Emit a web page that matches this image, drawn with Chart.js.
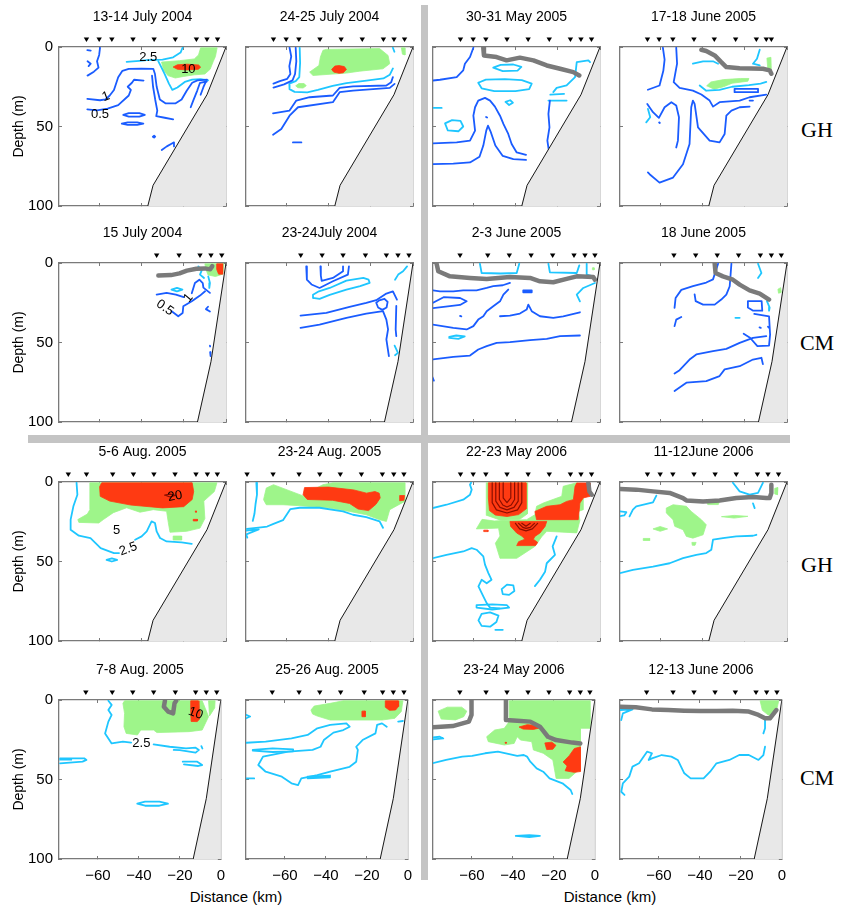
<!DOCTYPE html>
<html>
<head>
<meta charset="utf-8">
<script src="https://cdn.jsdelivr.net/npm/chart.js@4.4.1/dist/chart.umd.min.js"></script>
<style>
  body { margin: 0; background: #fff; width: 843px; height: 909px; position: relative; overflow: hidden; font-family: "Liberation Sans", Arial, sans-serif; }
  canvas { position: absolute; }
  .bar { position: absolute; background: #c4c4c4; }
  .site { position: absolute; font-family: "Liberation Serif", "Times New Roman", serif; font-size: 22px; line-height: 1; transform: translate(-50%, -50%); }
  .xlab { position: absolute; font-size: 15px; line-height: 1; transform: translate(-50%, -50%); }
</style>
</head>
<body>
<div class="bar" style="left:421px; top:5px; width:7px; height:875px;"></div>
<div class="bar" style="left:28px; top:435px; width:762px; height:8px;"></div>
<div class="site" style="left:817px; top:130px;">GH</div>
<div class="site" style="left:817px; top:343px;">CM</div>
<div class="site" style="left:817px; top:565px;">GH</div>
<div class="site" style="left:817px; top:778px;">CM</div>
<div class="xlab" style="left:236px; top:896px;">Distance (km)</div>
<div class="xlab" style="left:610px; top:896px;">Distance (km)</div>
<script>
// axes
const xTickVals = [-60, -40, -20, 0]
const yTickVals = [0, 50, 100]

const titles = ['13-14 July 2004', '24-25 July 2004', '30-31 May 2005', '17-18 June 2005',
    '15 July 2004', '23-24July 2004', '2-3 June 2005', '18 June 2005',
    '5-6 Aug. 2005', '23-24 Aug. 2005', '22-23 May 2006', '11-12June 2006',
    '7-8 Aug. 2005', '25-26 Aug. 2005', '23-24 May 2006', '12-13 June 2006']

// station positions (km)
const stGH = [-66, -60, -54, -44, -34, -24, -14, -9, -4]
const stGH4 = [-66, -60.5, -54, -44, -34.4, -24.3, -14.5, -9.8, -7.4]
const stGH9 = [-74.6, -66, -53.6, -43.8, -34.1, -24.1, -14.2, -8.8, -4.1]
const stGH10 = [-78.5, -66.2, -53.9, -44.1, -34.4, -24.4, -14.5, -9.1, -4.3]
const stCM5 = [-32.8, -22.2, -12.3, -7.1, -2]
const stCM6 = [-53.1, -43, -33.1, -22.5, -12.6, -7.1, -1.9]
const stCM7 = [-66.2, -53.1, -42.9, -32.6, -22.4, -12.3, -7.1, -2.4]
const stCM8 = [-53.5, -43.2, -33, -22.9, -12.6, -7.4, -2.7]
const stCM13 = [-65.9, -53, -43, -32.8, -22.2, -12.3, -7.1, -2]
const stCM14 = [-66.2, -53.1, -43, -32.8, -21.3, -12.3, -7.1, -1.9]
const stCM15 = [-65.9, -53.1, -42.9, -32.6, -22.4, -12.3, -7.1, -2.4]
const stCM16 = [-66, -53.1, -42.9, -32.6, -22.7, -12.6, -7.4, -2.4]

// bottom profiles (km, m)
const ghShelf = [[-37, 100], [-34.5, 87], [-9, 30], [0, 0]]
const cmShelf = [[-13.5, 100], [-7.1, 62], [0, 0]]

// ---- 13-14 July 2004
const p1Green = [[[-30.5, 9.5], [-29.5, 14.5], [-27.5, 18], [-24, 19.5], [-20, 18.5], [-15, 17.5], [-10, 17], [-7.5, 14], [-6, 9], [-5, 6], [-4.2, 0.5], [-12, 0.5], [-13, 5], [-15, 7.5], [-22, 8.6], [-30.5, 9.5]]]
const p1Red = [[[-25, 12.6], [-23, 11.2], [-18.5, 10.8], [-13, 11.3], [-12, 12.6], [-13, 14], [-18.5, 14.4], [-23, 14], [-25, 12.6]]]
const p1Cyan = [
    [[-47, 9.3], [-41, 8.7], [-37.5, 8.3], [-30, 8], [-25, 6.5], [-21.5, 3.5], [-20.5, 0.3]],
    [[-32, 9], [-30.5, 13], [-29, 17], [-27, 23], [-25.4, 27], [-23, 25.5], [-19.5, 22], [-16, 20.5], [-12, 20.2], [-8.5, 21]]
]
const p1Blue = [
    [[-65.6, 32.6], [-59.6, 33.5], [-57, 33], [-55, 30.5], [-53, 27], [-51, 19], [-49, 15], [-46, 13.8], [-40, 13.6], [-34.4, 13.7], [-33.6, 17], [-32.8, 25], [-31.3, 33], [-28.5, 35.5], [-24, 35.5], [-21, 33], [-18.6, 27.5], [-16, 22.5], [-13.5, 21], [-9, 20.5]],
    [[-65.6, 39.2], [-61, 39.8], [-56, 38.7], [-51, 36.6], [-46, 30.5], [-45, 27], [-46.5, 25], [-44.5, 22.5], [-43.5, 20.6], [-39, 21.1]],
    [[-35, 18], [-34.5, 25], [-33.5, 33], [-32.5, 40], [-33, 43.5], [-29, 44.5], [-25, 45.5]],
    [[-9.1, 21.7], [-12.3, 22.5], [-13.6, 27.4], [-15.5, 33.7], [-16.7, 37.9]],
    [[-9.5, 21.8], [-10.7, 25.3], [-12, 30]],
    [[-48.6, 42.7], [-46, 41.6], [-41, 41.6], [-38.4, 42.7], [-41, 43.8], [-46, 43.8], [-48.6, 42.7]],
    [[-49.3, 48.2], [-46.5, 47.4], [-42, 47.4], [-39.1, 48.2], [-42, 49], [-46.5, 49], [-49.3, 48.2]],
    [[-34.6, 56.4], [-34, 55.8], [-33.5, 56.4], [-34, 57], [-34.6, 56.4]],
    [[-30.4, 64.8], [-28, 62.5], [-26, 61], [-24.6, 60], [-24.6, 62.5]],
    [[-59.6, 0.5], [-60, 5], [-61, 9], [-60.3, 13], [-62.5, 15.5], [-65.5, 18]],
    [[-65.6, 2], [-64, 2.3]],
    [[-65.5, 9], [-64, 10.5], [-65, 12]]
]
const p1Labels = [['2.5', -36.8, 6.3, 0], ['10', -17.8, 14.3, 0], ['1', -56.8, 31.2, -20], ['0.5', -59.6, 42.1, 0]]

// ---- 24-25 July 2004
const p2Green = [
    [[-41, 1.5], [-15.8, 1], [-11.8, 5.3], [-11, 10.5], [-14.2, 13.7], [-25.2, 15.2], [-31.5, 16.4], [-47.3, 17.9], [-48.9, 15.8], [-44.5, 11.6], [-43.8, 6.3], [-42.6, 2.1], [-41, 1.5]],
    [[-55.5, 24.4], [-54, 23], [-51.5, 23], [-50.5, 24.4], [-52, 25.8], [-54.5, 25.6], [-55.5, 24.4]],
    [[-5.5, 0.5], [-4, 0.5], [-3.8, 5], [-5, 4.5], [-5.5, 0.5]]
]
const p2Red = [[[-38.5, 14.1], [-37, 12], [-35, 11.7], [-32.5, 12.3], [-31.5, 14.1], [-33, 16.2], [-35, 16.5], [-37.5, 15.8], [-38.5, 14.1]]]
const p2Cyan = [
    [[-53.6, 0.5], [-53.4, 10], [-53.8, 19], [-55.5, 21.5], [-58.5, 23], [-58.4, 26.5], [-56, 28.2], [-50, 28.5], [-45, 27], [-38, 24.5], [-31.5, 22.7], [-22, 21.2], [-14, 19.8], [-11, 17.5], [-9.5, 13.5]],
    [[-9.5, 0.5], [-8.8, 3]]
]
const p2Blue = [
    [[-58.4, 0.5], [-57.6, 6], [-58.5, 12], [-58, 17], [-59.5, 20], [-63, 21.5], [-66, 23]],
    [[-55.5, 0.5], [-55.2, 9], [-55.8, 17], [-57, 21], [-61, 23.5], [-66, 25.5]],
    [[-66.2, 41.7], [-58.4, 40], [-55.2, 33.7], [-48.9, 31.6], [-37.9, 30.5], [-34.7, 25.7], [-28.4, 24.8], [-12.6, 24.2], [-10.3, 22.1], [-9.5, 18.9]],
    [[-66.2, 55.2], [-62.3, 51.6], [-58.4, 43.2], [-54.4, 37.9], [-37.9, 34.7], [-34.7, 28.4], [-28.4, 27.4], [-11, 25.7], [-8.7, 23.2]],
    [[-56.8, 60], [-52.8, 60]]
]

// ---- 30-31 May 2005
const p3Gray = [[[-55.2, 0.5], [-54.9, 5.3], [-48.9, 6.3], [-44.2, 8.4], [-37.9, 6.7], [-31.5, 8.4], [-25.2, 11.6], [-18.9, 13.7], [-12.6, 15.8], [-9.8, 17.9]]]
const p3Cyan = [
    [[-50.5, 13], [-47, 11.2], [-41, 11], [-37.2, 12.5], [-39, 14.8], [-46, 15.2], [-50.5, 13]],
    [[-57.6, 22.5], [-54, 20.5], [-45, 20.2], [-37, 20.8], [-32.3, 23], [-33.5, 26.5], [-40, 27.8], [-50, 27.8], [-56, 26], [-57.6, 22.5]],
    [[-4.7, 9.5], [-5.5, 8.4], [-11, 9.5], [-11.8, 18.9], [-15.8, 24.2], [-20.5, 25.7], [-22.1, 28.4]],
    [[-24.4, 33.7], [-15.8, 33.7]],
    [[-23.5, 30], [-17, 29.5]],
    [[-44.7, 34.5], [-42.5, 33.5], [-41.2, 35], [-43, 36.5], [-44.7, 34.5]],
    [[-79.2, 38.3], [-74.9, 38.3]],
    [[-73.3, 48], [-70, 46], [-66, 46.5], [-64.7, 50], [-67, 53], [-72, 52.5], [-73.3, 48]]
]
const p3Blue = [
    [[-79.2, 21.1], [-75.7, 20.6], [-67.8, 18.9], [-64.7, 14.7], [-63.9, 10.5], [-61.5, 6.3], [-59.9, 0.5]],
    [[-79.2, 60.6], [-67.8, 60], [-61.5, 58.9], [-59.1, 52.6], [-59.9, 43.2], [-59.1, 37.9], [-57.6, 33.7], [-54.4, 32], [-52, 33.7], [-49.7, 37.5], [-47.3, 43.2], [-45.7, 48.4], [-43.4, 54.7], [-41.8, 61], [-39.4, 66.3], [-35, 67.8]],
    [[-79.2, 73.7], [-69.4, 73.3], [-61.5, 72.6], [-57, 69], [-55.2, 62], [-53.8, 52.6], [-53, 49.5], [-51.8, 53], [-49.5, 62], [-46, 68.5], [-41, 70.5], [-35, 71]],
    [[-23.7, 33.7], [-24.4, 42.1], [-23.9, 50.5], [-24.9, 58.9], [-24.3, 64.2]],
    [[-53.9, 44], [-53.4, 44.4]]
]

// ---- 17-18 June 2005
const p4Gray = [[[-40.5, 1.7], [-38.2, 2.5], [-34.2, 5.3], [-31.1, 9.5], [-28.7, 12.6], [-22.4, 13.3], [-11.4, 13.7], [-8.2, 14.7], [-7.4, 16.8]]]
const p4Green = [
    [[-38, 24.4], [-36, 22], [-30, 20.5], [-22, 19.8], [-18, 19.8], [-18.5, 21.5], [-26, 22.8], [-30, 25], [-34.5, 26.5], [-38, 24.4]],
    [[-9.5, 7], [-7.6, 6.5], [-7.4, 16], [-9, 15], [-9.5, 7]]
]
const p4Cyan = [
    [[-44.5, 10.5], [-39.7, 9], [-35, 9], [-32.6, 10.5]],
    [[-41.3, 24.2], [-38.2, 27.5], [-31.9, 27], [-26, 25], [-18, 24], [-12.5, 23], [-9.8, 22]],
    [[-12.9, 1.7], [-14.2, 7.4], [-16.1, 10.5], [-12.9, 11.6]],
    [[-65.8, 38.9], [-64.7, 44.2], [-66.6, 47.4]]
]
const p4Blue = [
    [[-58.7, 0.5], [-57.9, 8], [-58.5, 15], [-60.3, 24.2], [-65.8, 26.9]],
    [[-52.4, 0.5], [-52, 10.5], [-53.6, 22.1], [-50.8, 25.7], [-44.5, 27.4], [-40.5, 29.9], [-36.6, 33.7], [-35, 37.5], [-31.9, 34.7], [-22.4, 33.7], [-17.7, 31.6], [-9.8, 29.9]],
    [[-66.1, 35.8], [-63.4, 41], [-60.6, 44.6], [-57.9, 37.9], [-54.7, 34.7], [-52.4, 36.8], [-51.1, 44.2], [-51.6, 58.9], [-52.4, 63.2]],
    [[-65.8, 78.9], [-65, 80], [-60.3, 85.3], [-53.9, 82.1], [-49.2, 73.7], [-46.1, 61], [-45.3, 37.9], [-44.5, 33.7], [-43.7, 35.8], [-42.1, 50.5], [-36.6, 58.9], [-31.9, 60], [-29.5, 54.7], [-28.7, 43.2], [-26.3, 40], [-22.4, 37.9], [-17.7, 37.5]],
    [[-24.8, 26.3], [-13.7, 26.3], [-13.7, 28.4], [-24.8, 28.4], [-24.8, 26.3]],
    [[-17.7, 33.7], [-16.1, 33.7]],
    [[-60.5, 47.5], [-60.2, 47.8]]
]

// ---- 15 July 2004
const p5Gray = [[[-32, 7.9], [-26, 7.6], [-22, 6.5], [-18.5, 4.8], [-14, 3.6], [-10, 3.4], [-7.5, 4], [-6.5, 2]]]
const p5Green = [[[-10, 0.5], [-1, 0.5], [-1.5, 7], [-5, 8.5], [-8.5, 7.5], [-9.5, 4], [-10, 0.5]]]
const p5Red = [[[-4.4, 0.5], [-1.6, 0.5], [-1.6, 7], [-3.5, 7], [-4.4, 4], [-4.4, 0.5]]]
const p5Cyan = [
    [[-13.1, 2.1], [-11.5, 4.6], [-12.3, 7.3], [-10.4, 9.4]],
    [[-25.8, 16.7], [-23.2, 15.6], [-20.6, 16.7], [-23.2, 17.8], [-25.8, 16.7]],
    [[-8.4, 8.4], [-7.6, 12.6], [-7.9, 15.7]]
]
const p5Blue = [
    [[-32.8, 19.9], [-28.1, 18.8], [-23.7, 19.9], [-20, 21.5]],
    [[-16.2, 19], [-14.7, 12.6], [-12.6, 10.5], [-11, 12.6], [-10.7, 15.5], [-7.6, 18.8]],
    [[-25.7, 30.3], [-22.6, 33.5], [-20.5, 31.4], [-20.2, 27.2], [-16.2, 24.1], [-12.3, 20.5], [-9.9, 17.8]],
    [[-8.5, 27.5], [-9.5, 29], [-7.6, 30.5]],
    [[-7.6, 52], [-7.5, 52.5]],
    [[-7.5, 56], [-7.3, 58.5]]
]
const p5Labels = [['1', -17.8, 22, -50], ['0.5', -28.9, 28.2, 35]]

// ---- 23-24 July 2004
const p6Cyan = [
    [[-47.3, 22], [-44.2, 22.6], [-39.4, 20], [-31.5, 16.8], [-25, 14.5], [-20.5, 12.5], [-21, 10.5], [-23.5, 9.4], [-31.5, 11.1], [-39.4, 15.7], [-44.5, 17.8], [-47.3, 20], [-47.3, 22]],
    [[-8.5, 10.5], [-7, 7.3], [-4.7, 5.2], [-2.8, 2.1]],
    [[-8.7, 52], [-7.1, 56.5], [-8.5, 58]]
]
const p6Blue = [
    [[-50.5, 2.1], [-50.2, 10.5], [-48, 13.5], [-44.2, 15.7], [-37.9, 11.5], [-30.8, 7.3], [-30.3, 2.1]],
    [[-43.8, 2.1], [-43.6, 8], [-43.2, 11.2], [-37.9, 9.4], [-33.1, 5.2], [-33.1, 2.1]],
    [[-53.2, 33.1], [-41, 31.4], [-30, 27.6], [-22.1, 25.1], [-17.4, 23.4], [-12.6, 19.2], [-9.5, 17.8], [-7.6, 23]],
    [[-17.4, 25], [-16, 23.5], [-13.5, 22.5], [-12, 24.5], [-12.5, 28], [-14.5, 29.5], [-16.5, 28], [-17.4, 25]],
    [[-53.2, 40.8], [-44.2, 38.7], [-31.5, 34.5], [-22.1, 31.8], [-14.2, 30.3], [-12.6, 35.6], [-11.8, 41.8], [-12.6, 48.1], [-11.4, 58.6]],
    [[-7.9, 27], [-8.2, 41.8], [-7.9, 46]]
]

// ---- 2-3 June 2005
const p7Gray = [[[-77.3, 0.5], [-76.5, 5.2], [-71, 8.4], [-61.5, 9.4], [-53.6, 10], [-42.6, 8.8], [-33.1, 9.4], [-28.4, 11.5], [-22.1, 12.1], [-15.8, 10], [-11, 8.4], [-3.2, 8.8], [-2.4, 10.5]]]
const p7Green = [[[-3.6, 3], [-2.8, 3], [-2.8, 4.3], [-3.6, 4.3], [-3.6, 3]]]
const p7Cyan = [
    [[-56.8, 0.5], [-56, 6.3], [-47, 6.6], [-39.4, 6.3], [-38.2, 0.5]],
    [[-24.4, 0.5], [-23.7, 5.9], [-11, 6.3], [-9.8, 1.5]],
    [[-6.3, 0.5], [-6.3, 7.3], [-3.2, 8.4]],
    [[-2.4, 12.6], [-7.9, 15.7], [-11, 19.9], [-9.5, 24.1]],
    [[-71.3, 46.4], [-68, 45.6], [-64, 46.2], [-67, 47.7], [-71.3, 47.1], [-71.3, 46.4]]
]
const p7Blue = [
    [[-79.2, 17.2], [-75.7, 17.8], [-69.4, 17.8], [-64.7, 17.2], [-58.4, 17.2], [-53.6, 15.7], [-50.5, 14.6], [-46, 14], [-42.6, 12.5]],
    [[-79.2, 25.1], [-74, 21.5], [-66.2, 22], [-63.1, 24.1], [-66.2, 26.4], [-73, 27.4], [-79.2, 28.4]],
    [[-79.2, 38.7], [-69.4, 40.8], [-63.1, 41.8], [-59.9, 39.7], [-57.6, 35.6], [-55.2, 33.5], [-53.6, 30.3], [-50.5, 27.2], [-47.3, 24.1], [-45.7, 19.9], [-43.4, 16.7]],
    [[-47.3, 33.5], [-42.6, 33.1], [-37.9, 31.8], [-34.7, 29.3], [-33.9, 26.2], [-32.3, 30.3], [-28.4, 33.5], [-22.1, 34.5], [-17.4, 33.5], [-9.5, 31]],
    [[-79.2, 60.7], [-69.4, 59], [-61.5, 58.2], [-57.6, 54.4], [-53.6, 52.3], [-48.9, 50.2], [-42.6, 49.8], [-33.1, 48.5], [-25.2, 47.7], [-18.9, 46], [-9.5, 45.6]],
    [[-79.2, 72], [-78.6, 74]],
    [[-36.3, 17.2], [-32.3, 17.2], [-32.3, 18.4], [-36.3, 18.4], [-36.3, 17.2]],
    [[-66.2, 33.3], [-65.6, 33.6]]
]

// ---- 18 June 2005
const p8Gray = [[[-34.2, 0.5], [-33.8, 6.3], [-30.3, 8.4], [-25.6, 10.5], [-22.4, 13.6], [-17.7, 17.2], [-12.9, 19.2], [-8.5, 23]]]
const p8Green = [[[-4.3, 16.5], [-3, 15.5], [-2.7, 18.5], [-4, 19], [-4.3, 16.5]]]
const p8Cyan = [
    [[-13.7, 0.5], [-12.1, 6.3], [-13.7, 9.4]],
    [[-9.5, 24], [-8.2, 28], [-8.5, 30]],
    [[-24.4, 34.5], [-22.4, 34.5]]
]
const p8Blue = [
    [[-53.2, 28.2], [-52.7, 22], [-50, 16.9], [-44.5, 14.6], [-38.2, 12.3], [-35, 10.3], [-32.6, 0.5]],
    [[-43.7, 19.7], [-43.2, 24], [-39.7, 26.2], [-34.2, 26.2], [-31.1, 23], [-28.7, 19.9], [-27.1, 14.6], [-26.3, 0.5]],
    [[-53.2, 39.7], [-52.4, 35.6], [-50, 34]],
    [[-18.5, 24], [-12, 24], [-11.7, 30], [-16, 30], [-18.5, 28], [-18.5, 24]],
    [[-15.5, 32], [-8.5, 33.5], [-8, 45], [-8.5, 52], [-14, 52.3], [-17.5, 47], [-20.5, 44.5]],
    [[-53.2, 69.5], [-50.8, 67.4], [-46.1, 60.7], [-42.9, 57.5], [-35, 55.4], [-28.7, 54], [-22.4, 50.2], [-16.1, 47.1], [-9.8, 46]],
    [[-53.2, 80.5], [-47.6, 75.3], [-38.2, 74.3], [-31.9, 71.1], [-29.5, 66.9], [-22.4, 64.9], [-16.1, 60.7], [-12.1, 59.6], [-11.4, 63.6]],
    [[-13, 40.5], [-12.4, 40.8]],
    [[-9, 40], [-8.6, 40.6]]
]

// ---- 5-6 Aug. 2005
const p9Green = [
    [[-64.4, 0.5], [-4.3, 0.5], [-5.5, 6], [-10.5, 12], [-10, 23], [-12.3, 29], [-18.6, 31], [-26.5, 31.6], [-27.3, 25.5], [-28.1, 18.4], [-34.4, 17.4], [-40.7, 19], [-47, 16.2], [-53.3, 19.3], [-58, 23.6], [-60.2, 25.8], [-69.6, 25.4], [-70.1, 23.6], [-65.6, 20.2], [-64.4, 17.4], [-64.4, 0.5]],
    [[-25, 34], [-21, 34], [-21, 36.5], [-25, 36.5], [-25, 34]]
]
const p9Red = [
    [[-58.8, 0.5], [-16, 0.5], [-15.3, 6], [-16, 11], [-20, 15.5], [-30, 16.3], [-45, 14.5], [-55, 12], [-59.5, 9], [-59.8, 3], [-58.8, 0.5]],
    [[-15.5, 23.5], [-13.5, 23.5], [-13.5, 24.5], [-15.5, 24.5], [-15.5, 23.5]],
    [[-14.5, 18.2], [-14, 18.2], [-14, 19], [-14.5, 19], [-14.5, 18.2]]
]
const p9Dark = [[[-29, 8.2], [-26.5, 7.6], [-24, 8.4], [-26.5, 9.4], [-29, 8.2]]]
const p9Cyan = [
    [[-70.7, 0.5], [-70.3, 8], [-72.2, 15.3], [-73.5, 23.7], [-73.5, 30], [-69.6, 33.8], [-64.1, 35.3], [-61.7, 38.4], [-59.3, 41.6], [-53, 44.7], [-50.6, 44.7]],
    [[-43, 36.3], [-39.9, 34.2], [-37.5, 31.1], [-35.2, 24.8], [-33.6, 25.8], [-32.8, 31.1], [-31.2, 35.2], [-28.1, 37.4], [-21, 38], [-16.2, 38.9]],
    [[-56.5, 49], [-54, 48], [-51.5, 49], [-54, 50], [-56.5, 49]]
]
const p9Labels = [['20', -24.1, 9, -10], ['5', -51.7, 30.7, 0], ['2.5', -46.2, 42.2, -20]]

// ---- 23-24 Aug. 2005
const p10Green = [[[-47.3, 11.1], [-45.7, 3.8], [-42.6, 1.7], [-37.9, 0.5], [-3.9, 0.5], [-3.9, 12.2], [-11, 17.4], [-12.6, 24.8], [-15.8, 23.7], [-22.1, 20.6], [-30, 18.5], [-39.4, 16.4], [-53.6, 14.9], [-61.5, 14.3], [-69.4, 14.3], [-70.7, 11.1], [-69.4, 3.8], [-66, 1.7], [-47.3, 11.1]]]
const p10Red = [
    [[-51.3, 3.5], [-40, 3.2], [-28, 5], [-22, 7], [-18, 6], [-16, 7], [-15.5, 10], [-17.5, 14], [-21, 18], [-26, 17], [-30, 13.5], [-38, 11.5], [-50, 11], [-52, 8], [-51.3, 3.5]],
    [[-6.3, 8.5], [-4, 8.5], [-4.3, 11.5], [-6.3, 11.8], [-6.3, 8.5]]
]
const p10Cyan = [
    [[-74.1, 0.5], [-73.8, 8], [-74.5, 14], [-75, 20], [-75.8, 24.5]],
    [[-78.6, 29.5], [-72, 28.5], [-69, 28], [-66, 26.3], [-61.5, 24], [-58, 17], [-53.6, 16.2], [-44.2, 16.2], [-33.1, 18.5], [-28.4, 20.6], [-22.1, 22.1], [-15.8, 24.8], [-14.2, 28.8]],
    [[-78.9, 30.5], [-73, 29.8], [-78.9, 33], [-78.4, 35]]
]

// ---- 22-23 May 2006
const p11Gray = [[[-5.5, 0.6], [-5, 6], [-3.9, 8]]]
const p11Green = [
    [[-55.8, 23.5], [-58.5, 29.5], [-48, 29], [-47.3, 34], [-49.5, 38.5], [-47.3, 48], [-39.4, 48], [-30.8, 40.5], [-27.6, 34.5], [-25.2, 31], [-11, 32], [-9.5, 24], [-10.3, 18.5], [-7.9, 17.4], [-7.9, 2], [-11, 0.5], [-17.4, 2.7], [-18.1, 9], [-26.8, 13.2], [-30, 15.3], [-30.8, 20.6], [-34.7, 23.7], [-42, 24], [-50, 24.5], [-55.8, 23.5]],
    [[-53.8, 0.5], [-34.2, 0.5], [-34.3, 20], [-38, 23.5], [-47, 24], [-53.5, 21], [-53.8, 0.5]]
]
const p11Red = [
    [[-52.8, 0.5], [-35, 0.5], [-35, 17], [-38.5, 20.5], [-44, 21.7], [-49.5, 20.8], [-52.3, 18], [-52.8, 10], [-52.8, 0.5]],
    [[-42.6, 24.8], [-25.2, 24.8], [-26, 28], [-28.4, 32.1], [-30.8, 34.2], [-31.5, 36], [-29.5, 38], [-30.5, 40], [-39.4, 40], [-38.5, 37.5], [-35.5, 36], [-37, 34], [-39.4, 32.1], [-42.3, 27.9], [-42.6, 24.8]],
    [[-30.8, 18.5], [-25.2, 15.3], [-18.9, 14.3], [-15.8, 12.2], [-12.6, 11.1], [-11.8, 2.7], [-11, 0.6], [-4.7, 0.6], [-4.7, 9], [-7.9, 10], [-9.5, 13.2], [-10.3, 23.7], [-12.6, 23.7], [-30, 23.7], [-30.8, 18.5]],
    [[-55, 30.3], [-53, 30.3], [-53, 31.2], [-55, 31.2], [-55, 30.3]]
]
const p11Dark = [
    [[-51, 0.5], [-51, 13], [-49, 17.5], [-44, 19.5], [-39, 17.5], [-37, 13], [-37, 0.5]],
    [[-49.3, 0.5], [-49.3, 12], [-47.3, 16], [-44, 17.5], [-40.7, 16], [-38.7, 12], [-38.7, 0.5]],
    [[-47.6, 0.5], [-47.6, 11], [-46, 14.5], [-44, 15.7], [-42, 14.5], [-40.4, 11], [-40.4, 0.5]],
    [[-45.8, 0.5], [-45.8, 10], [-44, 13], [-42.2, 10], [-42.2, 0.5]],
    [[-40, 26], [-38, 29.5], [-35, 30.7], [-32, 29.5], [-29.5, 26]],
    [[-38.5, 26], [-36.5, 28.5], [-35, 29.2], [-33, 28.5], [-31, 26]],
    [[-37, 26], [-35, 27.8], [-33, 26]]
]
const p11Cyan = [
    [[-79.2, 16.4], [-72.6, 14.3], [-64.7, 11.1], [-61.5, 8], [-60.7, 4.8], [-61.5, 1.7], [-61, 0.5]],
    [[-79.2, 47.9], [-72.6, 45.8], [-64.7, 43.7], [-60.7, 41.6], [-58.4, 42.6], [-55.2, 46.8], [-54.4, 52], [-52.8, 57.3], [-51.3, 61.5], [-53.6, 63.7], [-56, 61.5], [-57.5, 65.7], [-55.2, 72], [-53.6, 76.2], [-52, 79], [-47.5, 79.5]],
    [[-46.5, 67.4], [-44, 64.5], [-41, 65], [-40.5, 68.5], [-43, 71], [-46, 70.5], [-46.5, 67.4]],
    [[-58.4, 77.5], [-51, 77], [-44, 77.5], [-43, 79], [-51, 80.2], [-58.4, 79], [-58.4, 77.5]],
    [[-56, 83], [-52, 82], [-48, 84], [-49, 88], [-52, 91], [-56, 90.5], [-57.5, 87], [-56, 83]],
    [[-49.5, 93], [-46, 93]],
    [[-20.5, 34.2], [-22.4, 40.5], [-21.3, 45.8], [-25.2, 51.1], [-26, 56.5], [-28.4, 61.5], [-30.8, 65.5]]
]

// ---- 11-12 June 2006
const p12Gray = [[[-79.2, 4.4], [-71.3, 4.8], [-63.4, 5.9], [-55.5, 6.9], [-49.2, 10.1], [-47.6, 11.6], [-39.7, 12.2], [-31.9, 11.6], [-24, 10.1], [-16.1, 9.5], [-9.8, 10.1], [-8.2, 10.1], [-7.4, 6.9], [-7.4, 1.7]]]
const p12Green = [
    [[-57.1, 16.4], [-53.9, 14.3], [-47.6, 15.3], [-45.3, 18.5], [-40.5, 23.7], [-38.2, 26.9], [-39.7, 33.2], [-44.5, 35.3], [-47.6, 34.2], [-49.2, 30], [-53.1, 27.9], [-53.9, 23.7], [-57.1, 19.5], [-57.1, 16.4]],
    [[-63.4, 29.5], [-60, 28], [-56.5, 29.5], [-60, 31], [-63.4, 29.5]],
    [[-31, 21.8], [-25, 21], [-18.5, 21.6], [-25, 22.7], [-31, 21.8]],
    [[-68, 35.5], [-65, 35.5], [-65, 36.8], [-68, 36.8], [-68, 35.5]],
    [[-45, 38], [-43, 38], [-43.5, 39.8], [-44.8, 39.8], [-45, 38]],
    [[-38, 12.8], [-32, 12.5], [-32.5, 14.2], [-37.5, 14.2], [-38, 12.8]],
    [[-5.8, 4], [-4.3, 3.5], [-4.5, 8], [-5.8, 7.5], [-5.8, 4]]
]
const p12Cyan = [
    [[-79.2, 18.5], [-76, 19], [-77, 21], [-79.2, 21.5]],
    [[-74.5, 21.6], [-72.9, 17.4], [-71.3, 15.3], [-63.4, 12.8], [-61.8, 8.6]],
    [[-25.6, 0.5], [-22.4, 5.9], [-17.7, 8], [-13.7, 6.9], [-11.4, 0.5]],
    [[-16.1, 13.4], [-15.3, 16.4]],
    [[-79.2, 57.4], [-72.9, 55.3], [-63.4, 53.2], [-55.5, 51.1], [-49.2, 47.9], [-42.9, 45.8], [-38.2, 44.7], [-35.8, 42.6], [-35, 36.3], [-30.3, 35.3], [-24, 34.2], [-16.1, 33.8], [-14.5, 33.2]]
]

// ---- 7-8 Aug. 2005
const p13Gray = [[[-27.3, 0.5], [-27.8, 4.2], [-25.7, 7.3], [-23.3, 8.4], [-22.6, 2.1], [-21.8, 0.5]]]
const p13Green = [
    [[-47.8, 2.1], [-47, 0.5], [-9.1, 0.5], [-7.6, 5.2], [-6, 10.5], [-9.1, 18.9], [-15.5, 19.9], [-31.2, 20.5], [-32.8, 18.9], [-39.1, 18.9], [-40.7, 22], [-46.2, 21], [-47.3, 16.8], [-47, 8.4], [-47.8, 2.1]],
    [[-6, 0.5], [-2.8, 0.5], [-3, 5], [-5.5, 10], [-6, 0.5]]
]
const p13Red = [[[-14.7, 0.5], [-11, 0.5], [-10.7, 5], [-10, 7], [-10.4, 12], [-11.5, 13.6], [-14.5, 13.5], [-14.7, 8], [-14.7, 0.5]]]
const p13Cyan = [
    [[-54.9, 0.5], [-53.3, 3.1], [-54.9, 6.3], [-53.3, 9.4], [-54.9, 13.6], [-56.5, 21], [-53.3, 27.3], [-47.8, 26.2], [-43.8, 26.8]],
    [[-32.8, 27.9], [-25, 29.4], [-17, 30.4], [-12.3, 30], [-10.7, 31.4], [-12.3, 33.1], [-20, 31.5], [-23, 31.4]],
    [[-18.6, 38.8], [-11.5, 38.8], [-9.1, 40.9], [-11, 41.5], [-18, 40.5]],
    [[-9.5, 29], [-9, 30.5]],
    [[-78.5, 36.7], [-66.7, 36.7], [-65.6, 37.7], [-67.5, 38.8], [-78.5, 39.8]],
    [[-78.5, 37.5], [-73, 37.5]],
    [[-40.8, 65.2], [-37, 63.9], [-30, 63.9], [-25.8, 65.2], [-30, 66.5], [-37, 66.5], [-40.8, 65.2]]
]
const p13Labels = [['10', -12.3, 8.4, 20], ['2.5', -38.8, 27.3, 0]]

// ---- 25-26 Aug. 2005
const p14Green = [[[-47.3, 6.3], [-45.7, 3.8], [-37.9, 2.1], [-31.5, 0.5], [-2.4, 0.5], [-3.2, 7.3], [-6.3, 11.5], [-12.6, 12.6], [-37.9, 12.6], [-44.2, 10.1], [-46.5, 8.8], [-47.3, 6.3]]]
const p14Red = [
    [[-11, 0.5], [-4.7, 0.5], [-4.5, 4], [-6, 6.3], [-9, 6.5], [-11, 4.5], [-11, 0.5]],
    [[-22.4, 7], [-20.8, 6.9], [-20.8, 10.5], [-22.4, 10.5], [-22.4, 7]]
]
const p14Cyan = [
    [[-78.9, 9.4], [-77, 10.4], [-78.9, 11.5]],
    [[-4.7, 13.6], [-2.4, 13.2]],
    [[-78.9, 26.9], [-69.4, 26.2], [-56.8, 24.1], [-48.9, 22], [-44.2, 17.8], [-37.9, 15.7], [-30, 14.7], [-28.4, 16.8], [-31.5, 18.9], [-36.3, 20.5], [-41, 25.2], [-42.6, 29.4], [-46.5, 31.4], [-58.4, 32.5], [-70.7, 35.6], [-73, 40.9], [-69.4, 45.1], [-61.5, 48.2], [-56.8, 52.4], [-53.6, 53.5], [-52, 49.3], [-44.2, 47.2], [-37.9, 45.1], [-28.4, 42], [-25.2, 38.8], [-24.4, 31.4], [-25.2, 29.4], [-22.1, 25.2], [-15.8, 21], [-15, 15.7], [-12.6, 14.7], [-10.3, 16.8]],
    [[-75.7, 31.4], [-66, 30.4], [-56, 31], [-56, 32.3], [-66, 32.7], [-75.7, 31.8], [-75.7, 31.4]],
    [[-48.9, 48.2], [-38, 47.5], [-38, 48.6], [-48.9, 49.2]],
    [[-78.9, 49.3], [-75, 49.3]]
]

// ---- 23-24 May 2006
const p15Gray = [
    [[-79.2, 17.2], [-69.4, 16.4], [-61.5, 13.6], [-60.2, 9.4], [-60.2, 0.5]],
    [[-43.4, 0.5], [-43.4, 12.6], [-37.9, 13], [-31.5, 13.6], [-26.8, 16.8], [-22.9, 23.1], [-18.9, 25.2], [-11, 26.8], [-7.1, 27.3]]
]
const p15Green = [
    [[-76.5, 7], [-72, 4.5], [-65, 4.5], [-62.5, 7], [-64, 10.5], [-68, 12.5], [-75, 12], [-76.5, 7]],
    [[-41.8, 0.5], [-2.4, 0.5], [-2.4, 17.8], [-7.1, 17.8], [-7.1, 31.4], [-7.9, 44], [-12.6, 49.3], [-18.9, 49.3], [-20.5, 37.7], [-25.2, 33.5], [-30, 31.4], [-30.8, 26.2], [-36.3, 25.2], [-37.9, 23.1], [-39.4, 27.3], [-44.2, 28.3], [-52, 26.2], [-52.8, 23.1], [-48.9, 18.9], [-44.2, 17.8], [-41.8, 13.6], [-41.8, 0.5]]
]
const p15Red = [
    [[-37, 17], [-33, 15.5], [-28, 16], [-26.5, 17.5], [-30, 18.5], [-35, 18.3], [-37, 17]],
    [[-24.4, 27], [-21, 26.5], [-19, 28.5], [-20.5, 31], [-23.5, 31.2], [-24.4, 27]],
    [[-15.5, 39], [-12.5, 35], [-10, 30.5], [-7.1, 29.5], [-7.1, 45], [-10, 45.5], [-14.5, 44.5], [-13.5, 41.5], [-15.5, 39]],
    [[-43.8, 26.6], [-43.2, 26.6], [-43.2, 27.2], [-43.8, 27.2], [-43.8, 26.6]]
]
const p15Cyan = [
    [[-79.2, 23.5], [-75.7, 23.1], [-74, 24.2], [-78.8, 24.8]],
    [[-79.2, 39.8], [-72.6, 37.7], [-64.7, 35.6], [-59.9, 35.2], [-53.6, 33.5], [-47.3, 32.5], [-37.9, 35.2], [-34.7, 34.6], [-33.1, 35.6], [-31.5, 38.8], [-28.4, 43], [-25.2, 45.1], [-22.1, 49.3], [-15.8, 52.4], [-11.8, 56.6], [-11, 59.1]],
    [[-38.6, 85.5], [-32, 85], [-26.8, 85.5], [-32, 86.3], [-38.6, 85.5]]
]

// ---- 12-13 June 2006
const p16Gray = [[[-79.2, 4.2], [-71.3, 4.6], [-63.4, 5.9], [-55.5, 6.3], [-47.6, 6.7], [-39.7, 6.9], [-31.9, 6.9], [-24, 6.7], [-16.1, 7.3], [-11.4, 9.4], [-8.2, 11.5], [-5.8, 11.5], [-2.7, 6.3]]]
const p16Green = [[[-10.6, 0.5], [-1.5, 0.5], [-2.5, 6], [-4.5, 10], [-6.6, 9.5], [-9.5, 6.5], [-10.6, 0.5]]]
const p16Cyan = [
    [[-79.2, 6.3], [-72.9, 5.9], [-77.6, 8.4], [-78.4, 12.6]],
    [[-8.2, 11.5], [-8.2, 17.8], [-9, 21]],
    [[-8.2, 29.4], [-9, 34.6], [-11.4, 37.7], [-16.1, 34.6], [-20.8, 34.6], [-25.6, 37.7], [-31.9, 39.8], [-35, 45.1], [-38.2, 49.3], [-44.5, 49.3], [-47.6, 46.1], [-49.2, 41.9], [-50.8, 37.7], [-53.9, 35.6], [-58.6, 34.6], [-63.4, 36.7], [-65, 37.7], [-63.4, 33.5], [-65.8, 32.5], [-69.7, 39.8], [-72.9, 41.9], [-74.5, 48.2], [-77.6, 52.4], [-78.4, 57.7], [-76.8, 59.7]]
]

const panels = [
    { st: stGH, shelf: ghShelf, green: p1Green, red: p1Red, dark: [], blue: p1Blue, cyan: p1Cyan, gray: [], labels: p1Labels },
    { st: stGH, shelf: ghShelf, green: p2Green, red: p2Red, dark: [], blue: p2Blue, cyan: p2Cyan, gray: [], labels: [] },
    { st: stGH, shelf: ghShelf, green: [], red: [], dark: [], blue: p3Blue, cyan: p3Cyan, gray: p3Gray, labels: [] },
    { st: stGH4, shelf: ghShelf, green: p4Green, red: [], dark: [], blue: p4Blue, cyan: p4Cyan, gray: p4Gray, labels: [] },
    { st: stCM5, shelf: cmShelf, green: p5Green, red: p5Red, dark: [], blue: p5Blue, cyan: p5Cyan, gray: p5Gray, labels: p5Labels },
    { st: stCM6, shelf: cmShelf, green: [], red: [], dark: [], blue: p6Blue, cyan: p6Cyan, gray: [], labels: [] },
    { st: stCM7, shelf: cmShelf, green: p7Green, red: [], dark: [], blue: p7Blue, cyan: p7Cyan, gray: p7Gray, labels: [] },
    { st: stCM8, shelf: cmShelf, green: p8Green, red: [], dark: [], blue: p8Blue, cyan: p8Cyan, gray: p8Gray, labels: [] },
    { st: stGH9, shelf: ghShelf, green: p9Green, red: p9Red, dark: p9Dark, blue: [], cyan: p9Cyan, gray: [], labels: p9Labels },
    { st: stGH10, shelf: ghShelf, green: p10Green, red: p10Red, dark: [], blue: [], cyan: p10Cyan, gray: [], labels: [] },
    { st: stGH, shelf: ghShelf, green: p11Green, red: p11Red, dark: p11Dark, blue: [], cyan: p11Cyan, gray: p11Gray, labels: [] },
    { st: stGH, shelf: ghShelf, green: p12Green, red: [], dark: [], blue: [], cyan: p12Cyan, gray: p12Gray, labels: [] },
    { st: stCM13, shelf: cmShelf, green: p13Green, red: p13Red, dark: [], blue: [], cyan: p13Cyan, gray: p13Gray, labels: p13Labels },
    { st: stCM14, shelf: cmShelf, green: p14Green, red: p14Red, dark: [], blue: [], cyan: p14Cyan, gray: [], labels: [] },
    { st: stCM15, shelf: cmShelf, green: p15Green, red: p15Red, dark: [], blue: [], cyan: p15Cyan, gray: p15Gray, labels: [] },
    { st: stCM16, shelf: cmShelf, green: p16Green, red: [], dark: [], blue: [], cyan: p16Cyan, gray: p16Gray, labels: [] }
]

const colLeft = [0, 187, 374, 561]
const rowTop = [0, 216, 435, 653]

const BLUE = '#1a5cff'
const CYAN = '#1ec6ff'
const GREEN = '#9ef58a'
const RED = '#ff3a12'
const DARK = '#8a0e00'
const GRAY = '#7a7a7a'
const FRAME = '#7a7a7a'

Chart.defaults.font.family = '"Liberation Sans", Arial, sans-serif'
Chart.defaults.color = '#000'

function lineSet(pts, color, width, order) {
    return { data: pts, showLine: true, borderColor: color, borderWidth: width, pointRadius: 0, fill: false, tension: 0, order: order, borderJoinStyle: 'round', borderCapStyle: 'round' }
}

function areaSet(pts, color, order) {
    return { data: pts, showLine: true, borderColor: color, borderWidth: 0.8, backgroundColor: color, pointRadius: 0, fill: 'shape', tension: 0, order: order }
}

// contour labels and station markers, placed through the chart scales
function extrasPlugin(labels, stations) {
    return {
        id: 'extras',
        afterDatasetsDraw(chart) {
            const ctx = chart.ctx
            const xs = chart.scales.x, ys = chart.scales.y
            labels.forEach(function (it) {
                ctx.save()
                ctx.translate(xs.getPixelForValue(it[1]), ys.getPixelForValue(it[2]))
                ctx.rotate((it[3] || 0) * Math.PI / 180)
                ctx.font = '13px "Liberation Sans", Arial, sans-serif'
                ctx.fillStyle = '#000'
                ctx.textAlign = 'center'
                ctx.textBaseline = 'middle'
                ctx.fillText(it[0], 0, 0)
                ctx.restore()
            })
        },
        afterDraw(chart) {
            const ctx = chart.ctx
            const xs = chart.scales.x
            const top = chart.chartArea.top
            ctx.save()
            ctx.fillStyle = '#000'
            stations.forEach(function (v) {
                const px = xs.getPixelForValue(v)
                ctx.beginPath()
                ctx.moveTo(px - 2.7, top - 9.5)
                ctx.lineTo(px + 2.7, top - 9.5)
                ctx.lineTo(px, top - 5)
                ctx.closePath()
                ctx.fill()
            })
            ctx.restore()
        }
    }
}

function fmt(v) {
    return v < 0 ? '\u2212' + Math.abs(v) : String(v)
}

panels.forEach(function (p, i) {
    const row = Math.floor(i / 4), col = i % 4
    const cv = document.createElement('canvas')
    cv.width = 236
    cv.height = 230
    cv.style.left = colLeft[col] + 'px'
    cv.style.top = rowTop[row] + 'px'
    document.body.appendChild(cv)

    let ds = []
    // shelf (bottom)
    ds.push(areaSet(p.shelf.concat([[0, 100], p.shelf[0]]), '#e8e8e8', 1))
    ds.push(lineSet(p.shelf, '#000', 0.9, 0))
    p.gray.forEach(function (g) { ds.push(lineSet(g, GRAY, 4.5, 2)) })
    p.blue.forEach(function (b) { ds.push(lineSet(b, BLUE, 1.8, 3)) })
    p.cyan.forEach(function (c) { ds.push(lineSet(c, CYAN, 1.8, 3)) })
    p.dark.forEach(function (d) { ds.push(lineSet(d, DARK, 1.2, 4)) })
    p.red.forEach(function (r) { ds.push(areaSet(r, RED, 5)) })
    p.green.forEach(function (g) { ds.push(areaSet(g, GREEN, 6)) })

    const grid = { drawOnChartArea: false, drawTicks: true, tickLength: -3, color: FRAME, lineWidth: 1 }
    const border = { color: FRAME, width: 1.3 }

    new Chart(cv, {
        type: 'scatter',
        data: { datasets: ds },
        plugins: [extrasPlugin(p.labels, p.st)],
        options: {
            responsive: false,
            animation: false,
            devicePixelRatio: 1,
            layout: { padding: 0 },
            plugins: {
                legend: { display: false },
                tooltip: { enabled: false },
                title: { display: false }
            },
            scales: {
                x: {
                    type: 'linear', position: 'bottom', min: -79, max: 0, z: 1,
                    afterBuildTicks: function (s) { s.ticks = xTickVals.map(function (v) { return { value: v } }) },
                    afterFit: function (s) { s.height = 24 },
                    grid: grid, border: border,
                    ticks: { display: row === 3, autoSkip: false, maxRotation: 0, padding: 11, font: { size: 15 }, color: '#000', callback: fmt }
                },
                xTop: {
                    type: 'linear', position: 'top', min: -79, max: 0, z: 1,
                    afterBuildTicks: function (s) { s.ticks = xTickVals.map(function (v) { return { value: v } }) },
                    afterFit: function (s) { s.height = 47 },
                    grid: grid, border: border,
                    title: { display: true, text: titles[i], color: '#000', font: { size: 14, weight: 'normal' }, padding: { top: 9, bottom: 0 } },
                    ticks: { display: false }
                },
                y: {
                    type: 'linear', position: 'left', reverse: true, min: 0, max: 100, z: 1,
                    afterBuildTicks: function (s) { s.ticks = yTickVals.map(function (v) { return { value: v } }) },
                    afterFit: function (s) { s.width = 59 },
                    grid: grid, border: border,
                    title: { display: col === 0, text: 'Depth (m)', color: '#000', font: { size: 14 }, padding: { top: 11, bottom: 0 } },
                    ticks: { display: col === 0, autoSkip: false, padding: 9, font: { size: 15 }, color: '#000' }
                },
                yRight: {
                    type: 'linear', position: 'right', reverse: true, min: 0, max: 100, z: 1,
                    afterBuildTicks: function (s) { s.ticks = yTickVals.map(function (v) { return { value: v } }) },
                    afterFit: function (s) { s.width = 10 },
                    grid: grid, border: border,
                    ticks: { display: false }
                }
            }
        }
    })
})
</script>
</body>
</html>
